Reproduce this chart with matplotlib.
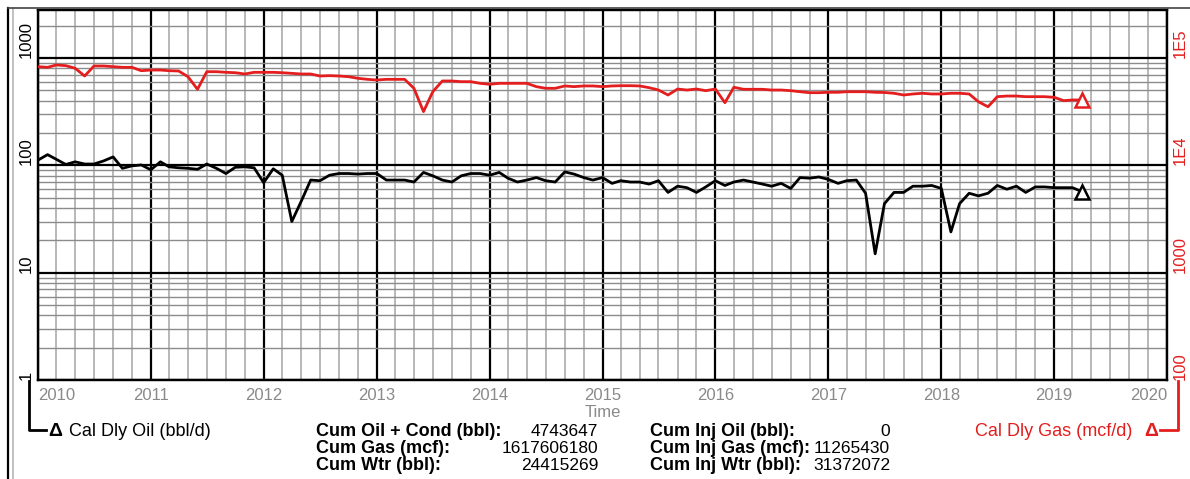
import matplotlib
matplotlib.use('Agg')
import matplotlib.pyplot as plt
import matplotlib.ticker as mticker
import matplotlib.dates as mdates
from matplotlib.lines import Line2D
import numpy as np
import pandas as pd

plt.rcParams['font.family'] = ['Liberation Sans', 'DejaVu Sans']

# ---------------- data ----------------
months = pd.date_range('2010-01-01', periods=112, freq='MS')

oil = [112, 126, 114, 102, 108, 103, 103, 110, 120, 94, 99, 101,
       91, 108, 97, 95, 94, 92, 103, 94, 84, 96, 97, 95,
       69, 93, 81, 30, 46, 73, 72, 81, 84, 84, 83, 84,
       84, 73, 73, 73, 70, 86, 80, 73, 70, 80, 84, 84,
       81, 86, 76, 70, 73, 77, 72, 70, 87, 83, 77, 73,
       77, 68, 72, 70, 70, 67, 72, 56, 64, 62, 56, 63,
       72, 65, 70, 73, 70, 67, 64, 68, 61, 77, 76, 78,
       74, 68, 72, 73, 55, 15, 44, 56, 56, 64, 64, 65,
       61, 24, 44, 55, 52, 55, 65, 60, 64, 56, 63, 63,
       62, 62, 62, 57]

gas = [83200, 82000, 86300, 85000, 80400, 68100, 84400, 84400, 83200, 82000, 82000, 76300,
       77400, 77400, 76300, 75800, 67100, 51200, 74700, 74700, 73700, 73100, 71100, 73700,
       73700, 73700, 73100, 72100, 71100, 71100, 68100, 68600, 68100, 67100, 64800, 63400,
       62500, 63400, 63400, 63400, 52300, 31700, 48600, 61200, 61200, 60300, 60300, 58200,
       57000, 58200, 58200, 58200, 58200, 54200, 52300, 52300, 55000, 54200, 55000, 55000,
       54200, 55000, 55300, 55300, 55000, 53000, 50400, 45300, 51500, 50400, 51500, 49700,
       51500, 38400, 53500, 51200, 51200, 51200, 50400, 50400, 49700, 48600, 47600, 47600,
       48000, 48000, 48600, 48600, 48600, 48000, 47800, 47000, 45300, 46300, 47000, 46300,
       46300, 47000, 47000, 46300, 39200, 35200, 43700, 44300, 44300, 43700, 43700, 43700,
       43100, 40100, 40700, 40700]

years = list(range(2010, 2021))
year_labels = [str(y) for y in years]
left_ticks = [1, 10, 100, 1000]
left_labels = ['1', '10', '100', '1000']
right_ticks = [100, 1000, 10000, 100000]
right_labels = ['100', '1000', '1E4', '1E5']

cum_left_names = ['Cum Oil + Cond (bbl):', 'Cum Gas (mcf):', 'Cum Wtr (bbl):']
cum_left_values = ['4743647', '1617606180', '24415269']
cum_right_names = ['Cum Inj Oil (bbl):', 'Cum Inj Gas (mcf):', 'Cum Inj Wtr (bbl):']
cum_right_values = ['0', '11265430', '31372072']

oil_label = 'Cal Dly Oil (bbl/d)'
gas_label = 'Cal Dly Gas (mcf/d)'

RED = '#e41e1e'
GRAY_TXT = '#8a8a8a'

# ---------------- figure ----------------
W, H = 1190, 479
fig = plt.figure(figsize=(W / 100, H / 100), dpi=100)


def fx(px):
    return px / W


def fy(py):
    return 1 - py / H


ax = fig.add_axes([fx(38), fy(380), fx(1167) - fx(38), fy(10) - fy(380)])
ax.set_yscale('log')
ax.set_ylim(1, 2807)
ax.set_xlim(pd.Timestamp('2010-01-01'), pd.Timestamp('2020-01-01'))

# grid
ax.set_xticks([pd.Timestamp(f'{y}-01-01') for y in years])
ax.set_xticklabels(year_labels)
ax.xaxis.set_minor_locator(mdates.MonthLocator(bymonth=[3, 5, 7, 9, 11]))
ax.set_yticks(left_ticks)
ax.set_yticklabels(left_labels, rotation=90, va='bottom')
ax.yaxis.set_minor_locator(mticker.LogLocator(base=10, subs=np.arange(2, 10), numticks=30))
ax.yaxis.set_minor_formatter(mticker.NullFormatter())

ax.grid(which='minor', axis='x', color='#a4a4a4', lw=1.1)
ax.grid(which='minor', axis='y', color='#8c8c8c', lw=1.0)
ax.grid(which='major', axis='both', color='black', lw=1.6)
ax.set_axisbelow(True)

ax.tick_params(axis='both', which='both', length=0)
ax.tick_params(axis='x', pad=6, labelsize=12, labelcolor=GRAY_TXT)
ax.tick_params(axis='y', pad=3, labelsize=12, labelcolor='black')
xl = ax.get_xticklabels()
xl[0].set_ha('left')
xl[-1].set_ha('right')

for s in ax.spines.values():
    s.set_linewidth(1.6)
    s.set_color('black')

ax.set_xlabel('Time', color=GRAY_TXT, fontsize=12, labelpad=1)

# oil
ax.plot(months, oil, color='black', lw=2.0, zorder=3)
ax.plot(months[-1], oil[-1], marker='^', ms=10, mfc='white', mec='black', mew=1.8, zorder=4)

# gas on right axis
ax2 = ax.twinx()
ax2.set_yscale('log')
ax2.set_ylim(100, 280700)
ax2.set_yticks(right_ticks)
ax2.set_yticklabels(right_labels, rotation=90, va='bottom')
ax2.yaxis.set_minor_locator(mticker.NullLocator())
ax2.tick_params(axis='y', which='both', length=0, pad=4, labelsize=12, labelcolor=RED)
for s in ax2.spines.values():
    s.set_linewidth(1.6)
    s.set_color('black')
ax2.plot(months, gas, color=RED, lw=2.0, zorder=3)
ax2.plot(months[-1], gas[-1], marker='^', ms=10, mfc='white', mec=RED, mew=1.8, zorder=4)

# ---------------- legend brackets ----------------
fig.add_artist(Line2D([fx(29), fx(29), fx(46)], [fy(381), fy(430), fy(430)],
                      color='black', lw=2.0, transform=fig.transFigure))
fig.text(fx(48), fy(436), 'Δ', fontsize=14, fontweight='bold', color='black',
         ha='left', va='baseline')
fig.text(fx(69), fy(436), oil_label, fontsize=13, color='black', ha='left', va='baseline')

fig.add_artist(Line2D([fx(1160), fx(1178), fx(1178)], [fy(430), fy(430), fy(381)],
                      color=RED, lw=2.0, transform=fig.transFigure))
fig.text(fx(1158), fy(436), 'Δ', fontsize=14, fontweight='bold', color=RED,
         ha='right', va='baseline')
fig.text(fx(1132), fy(436), gas_label, fontsize=13, color=RED, ha='right', va='baseline')

# ---------------- cumulative block ----------------
rows_y = [436, 453, 470]
for name, val, yy in zip(cum_left_names, cum_left_values, rows_y):
    fig.text(fx(316), fy(yy), name, fontsize=13, fontweight='bold', ha='left', va='baseline')
    fig.text(fx(598), fy(yy), val, fontsize=12.5, ha='right', va='baseline')
for name, val, yy in zip(cum_right_names, cum_right_values, rows_y):
    fig.text(fx(650), fy(yy), name, fontsize=13, fontweight='bold', ha='left', va='baseline')
    fig.text(fx(890), fy(yy), val, fontsize=12.5, ha='right', va='baseline')

# ---------------- outer frame ----------------
fig.add_artist(Line2D([fx(8), fx(8)], [0, fy(8)], color='black', lw=1.6, transform=fig.transFigure))
fig.add_artist(Line2D([fx(13), fx(13)], [0, fy(8)], color='#b5b5b5', lw=1.2, transform=fig.transFigure))
fig.add_artist(Line2D([fx(8), 1], [fy(8), fy(8)], color='#444444', lw=1.2, transform=fig.transFigure))

fig.savefig('out.png', dpi=100)
